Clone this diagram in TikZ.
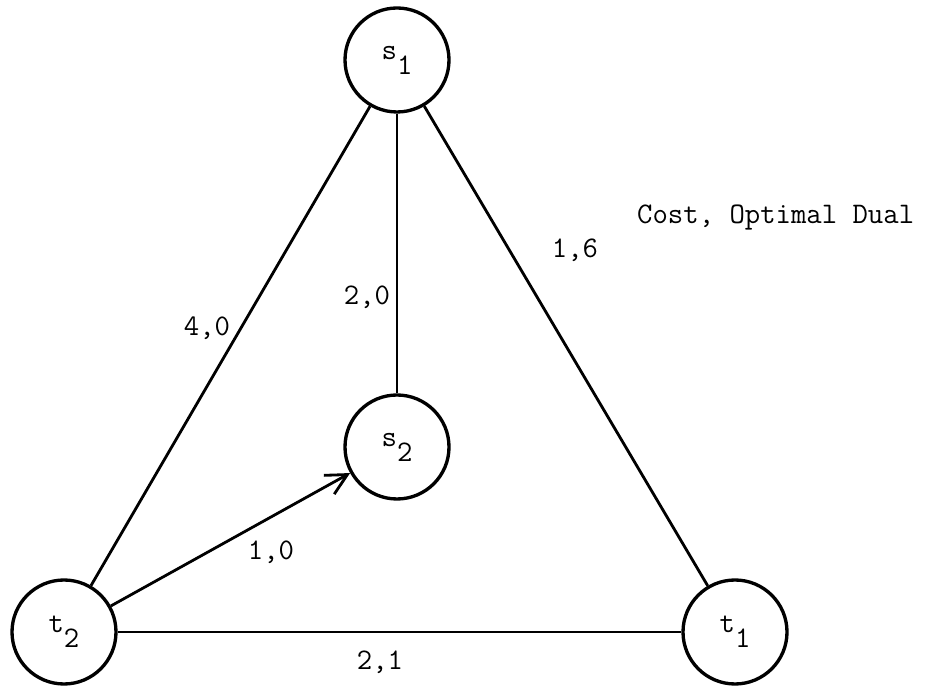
\documentclass[tikz,border=0pt]{standalone}
\usepackage{fontspec}
\usepackage{tikz}
\usetikzlibrary{arrows.meta}
\newcommand{\lowr}[1]{\raisebox{-.5em}{#1}}

\begin{document}
\begin{tikzpicture}[x=1cm,y=1cm,>={Straight Barb[length=4.2mm,width=4.3mm]},
 font=\ttfamily\fontsize{17}{20}\selectfont,
 vertex/.style={circle,draw,line width=1.9pt,minimum size=2.08cm,inner sep=0pt},
 edge/.style={line width=1.6pt}]
\useasboundingbox (0,0) rectangle (18.6,13.78);
% vertices
\node[vertex] (s1) at (7.94,12.58) {s\lowr{1}};
\node[vertex] (s2) at (7.94,4.84) {s\lowr{2}};
\node[vertex] (t2) at (1.28,1.14) {t\lowr{2}};
\node[vertex] (t1) at (14.70,1.14) {t\lowr{1}};
% edges
\draw[edge] (s1)--(t2);
\draw[edge] (s1)--(s2);
\draw[edge] (s1)--(t1);
\draw[edge] (t2)--(t1);
\draw[edge,->] (t2)--(s2);
% cost, optimal dual
\node (l40) at (4.14,7.22) {4,0};
\node (l20) at (7.34,7.84) {2,0};
\node (l16) at (11.5,8.78) {1,6};
\node (l10) at (5.42,2.74) {1,0};
\node (l21) at (7.60,0.54) {2,1};
\node[anchor=west] (key) at (12.62,9.42) {Cost, Optimal Dual};
\end{tikzpicture}
\end{document}
